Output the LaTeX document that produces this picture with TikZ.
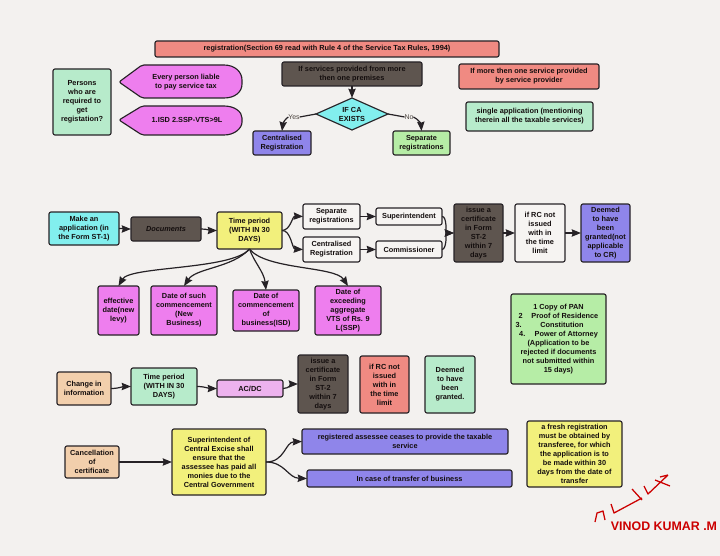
\documentclass[tikz,border=0pt]{standalone}
\usepackage{fontspec}
\setmainfont{Liberation Sans}
\usetikzlibrary{shapes.geometric,arrows.meta}
\definecolor{bgc}{HTML}{F3F1EF}
\definecolor{ink}{HTML}{140E0E}
\definecolor{edge}{HTML}{262226}
\definecolor{coral}{HTML}{F08A82}
\definecolor{mint}{HTML}{B7EBCB}
\definecolor{lime}{HTML}{B6EDA6}
\definecolor{pinkv}{HTML}{EE7EEE}
\definecolor{lav}{HTML}{EDB2EE}
\definecolor{blu}{HTML}{8F85EA}
\definecolor{cyn}{HTML}{82EFEE}
\definecolor{yel}{HTML}{F2F07C}
\definecolor{brn}{HTML}{5E554F}
\definecolor{pch}{HTML}{F2CFAC}
\definecolor{wht}{HTML}{F6F4F2}
\tikzset{
  x=0.75pt,y=-0.75pt,
  base/.style={font=\fontsize{5.5}{6.75}\selectfont\bfseries,text=ink,align=center,inner sep=0pt,outer sep=0pt},
  bx/.style={base,draw=edge,line width=0.85pt,rounded corners=1.5pt,rectangle},
  link/.style={draw=edge,line width=0.9pt,-{Stealth[length=7pt,width=5.5pt,inset=0.8pt]}},
  tag/.style={base,font=\fontsize{5.2}{6}\selectfont,text=brn!80!black}
}
\newcommand{\bxx}[7]{%
  \pgfmathsetmacro{\bw}{(#4-#2)*0.75}\pgfmathsetmacro{\bh}{(#5-#3)*0.75}%
  \node[bx,fill=#6,minimum width=\bw pt,minimum height=\bh pt] (#1) at ({(#2+#4)/2},{(#3+#5)/2}) {#7};}
\begin{document}
\begin{tikzpicture}
\useasboundingbox[fill=bgc] (0,0) rectangle (720,556);
% top block
\bxx{reg}{155}{41}{499}{57}{coral}{registration(Section 69 read with Rule 4 of the Service Tax Rules, 1994)}
\bxx{persons}{53}{69}{111}{135}{mint}{Persons\\who are\\required to\\get\\registation?}
\draw[bx,fill=pinkv] (119,82) -- (142,65) -- (222,65) .. controls (235,65) and (242,72) .. (242,82) .. controls (242,92) and (235,98) .. (222,98) -- (142,98) -- cycle;
\node[base] (every) at (186,82) {Every person liable\\to pay service tax};
\draw[bx,fill=pinkv] (119,120) -- (142,106) -- (222,106) .. controls (235,106) and (242,112) .. (242,120) .. controls (242,128) and (235,135) .. (222,135) -- (142,135) -- cycle;
\node[base] (isd) at (187,120) {1.ISD 2.SSP-VTS>9L};
\bxx{serv}{282}{62}{422}{86}{brn}{If services provided from more\\then one premises}
\node[base,draw=edge,line width=0.85pt,fill=cyn,diamond,shape aspect=2.25,minimum width=54pt,minimum height=24pt] (ca) at (352,114) {IF CA\\EXISTS};
\bxx{cent}{253}{131}{311}{155}{blu}{Centralised\\Registration}
\bxx{sepa}{393}{131}{450}{155}{lime}{Separate\\registrations}
\bxx{more}{459}{64}{599}{89}{coral}{If more then one service provided\\by service provider}
\bxx{single}{466}{102}{593}{131}{mint}{single application (mentioning\\therein all the taxable services)}
\draw[link] (serv.south) -- (ca.north);
\node[tag] (yes) at (294,117) {Yes};
\node[tag] (no) at (409,117) {No};
\draw[draw=edge,line width=0.9pt] (ca.west) -- (yes.east);
\draw[link] (yes.west) .. controls (286,118) and (283,123) .. (cent.north);
\draw[draw=edge,line width=0.9pt] (ca.east) -- (no.west);
\draw[link] (no.east) .. controls (418,119) and (421,124) .. (sepa.north);
% second row
\bxx{make}{49}{212}{119}{245}{cyn}{Make an\\application (in\\the Form ST-1)}
\bxx{docs}{131}{217}{201}{241}{brn}{\itshape Documents}
\bxx{time}{217}{212}{282}{249}{yel}{Time period\\(WITH IN 30\\DAYS)}
\bxx{sep}{303}{204}{360}{229}{wht}{Separate\\registrations}
\bxx{cen}{303}{237}{360}{262}{wht}{Centralised\\Registration}
\bxx{sup}{376}{208}{442}{225}{wht}{Superintendent}
\bxx{com}{376}{241}{442}{258}{wht}{Commissioner}
\bxx{iss}{454}{204}{503}{262}{brn}{issue a\\certificate\\in Form\\ST-2\\within 7\\days}
\bxx{ifrc}{515}{204}{565}{262}{wht}{if RC not\\issued\\with in\\the time\\limit}
\bxx{dee}{581}{204}{630}{262}{blu}{Deemed\\to have\\been\\granted(not\\applicable\\to CR)}
\bxx{eff}{98}{286}{139}{335}{pinkv}{effective\\date(new\\levy)}
\bxx{such}{151}{286}{217}{335}{pinkv}{Date of such\\commencement\\(New\\Business)}
\bxx{dcom}{233}{290}{299}{331}{pinkv}{Date of\\commencement\\of\\business(ISD)}
\bxx{exc}{315}{286}{381}{335}{pinkv}{Date of\\exceeding\\aggregate\\VTS of Rs. 9\\L(SSP)}
\bxx{pan}{511}{294}{606}{384}{lime}{1 Copy of PAN\\2\hspace{5pt} Proof of Residence\\3.\hspace{12pt} Constitution\hspace*{13.5pt}\mbox{}\\4.\hspace{5pt} Power of Attorney\\(Application to be\\rejected if documents\\not submitted within\\15 days)}
\draw[link] (make.east) to[out=0,in=180] (docs.west);
\draw[link] (docs.east) to[out=0,in=180] (time.west);
\draw[link] (time.east) .. controls (291,230) and (292,216) .. (sep.west);
\draw[link] (time.east) .. controls (291,230) and (292,249) .. (cen.west);
\draw[link] (sep.east) -- (sup.west);
\draw[link] (cen.east) -- (com.west);
\draw[link] (sup.east) .. controls (447,216) and (446,233) .. (iss.west);
\draw[link] (com.east) .. controls (447,249) and (446,233) .. (iss.west);
\draw[link] (iss.east) -- (ifrc.west);
\draw[link] (ifrc.east) -- (dee.west);
\draw[link] (time.south) .. controls (232,270) and (130,266) .. (eff.north);
\draw[link] (time.south) .. controls (232,268) and (196,268) .. (such.north);
\draw[link] (time.south) .. controls (254,262) and (264,272) .. (dcom.north);
\draw[link] (time.south) .. controls (266,270) and (335,266) .. (exc.north);
% third row
\bxx{chg}{57}{372}{111}{405}{pch}{Change in\\information}
\bxx{time2}{131}{368}{197}{405}{mint}{Time period\\(WITH IN 30\\DAYS)}
\bxx{acdc}{217}{380}{283}{397}{lav}{AC/DC}
\bxx{iss2}{298}{355}{348}{413}{brn}{issue a\\certificate\\in Form\\ST-2\\within 7\\days}
\bxx{ifrc2}{360}{356}{409}{413}{coral}{if RC not\\issued\\with in\\the time\\limit}
\bxx{dee2}{425}{356}{475}{413}{mint}{Deemed\\to have\\been\\granted.}
\draw[link] (chg.east) to[out=0,in=180] (time2.west);
\draw[link] (time2.east) to[out=0,in=180] (acdc.west);
\draw[link] (acdc.east) to[out=0,in=180] (iss2.west);
% fourth row
\bxx{can}{65}{446}{119}{478}{pch}{Cancellation\\of\\certificate}
\bxx{sup2}{172}{429}{266}{495}{yel}{Superintendent of\\Central Excise shall\\ensure that the\\assessee has paid all\\monies due to the\\Central Government}
\bxx{regd}{302}{429}{508}{454}{blu}{registered assessee ceases to provide the taxable\\service}
\bxx{tran}{307}{470}{512}{487}{blu}{In case of transfer of business}
\bxx{fresh}{527}{421}{622}{487}{yel}{a fresh registration\\must be obtained by\\transferee, for which\\the application is to\\be made within 30\\days from the date of\\transfer}
\draw[link] (can.east) -- (sup2.west);
\draw[link] (sup2.east) .. controls (285,462) and (285,442) .. (regd.west);
\draw[link] (sup2.east) .. controls (285,462) and (288,478) .. (tran.west);
% signature
\node[base,font=\fontsize{9.3}{10}\selectfont\bfseries,text=red!80!black] (vin) at (664,526) {VINOD KUMAR .M};
\draw[red!80!black,line width=0.95pt,line join=round] (595,522) -- (597,513) -- (603,511) -- (605,520)
  (611,504) -- (614,513) -- (642,498) (632,489) -- (642,500)
  (644,486) -- (648,494) -- (668,475) (655,480) -- (670,486) (660,477) -- (668,475);
\end{tikzpicture}
\end{document}
